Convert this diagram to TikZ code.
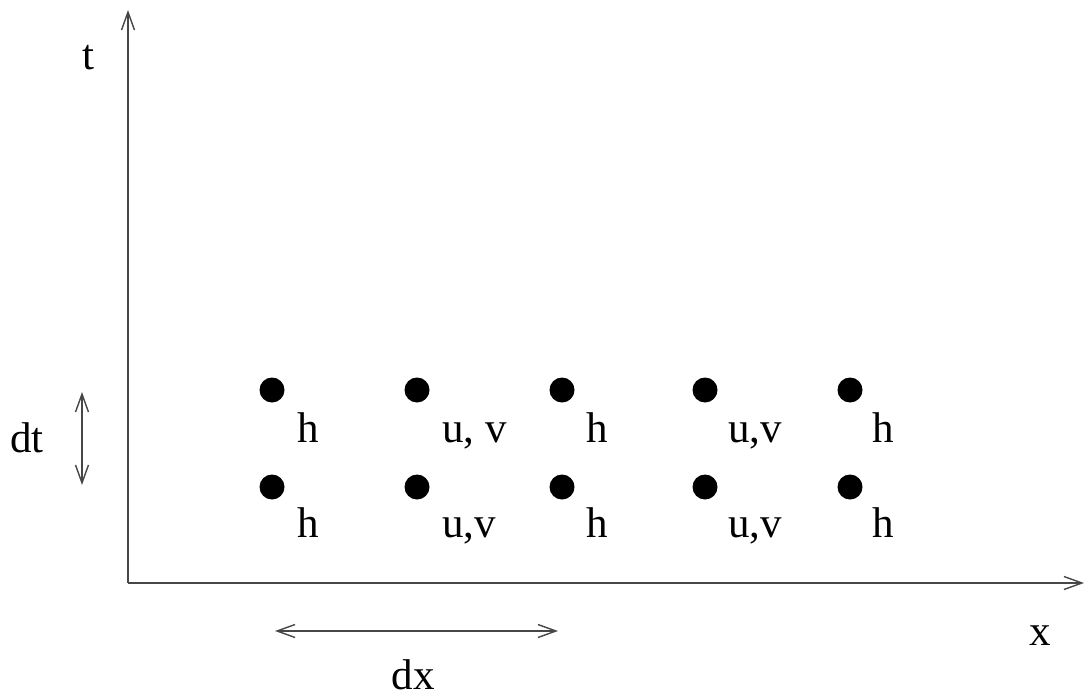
\documentclass[tikz,border=0pt]{standalone}
\usepackage{fontspec}
\setmainfont{Liberation Serif}
\usetikzlibrary{arrows.meta}
\begin{document}
\begin{tikzpicture}[x=1pt,y=-1pt,
  axis/.style={draw=black!72,line width=1.4pt,-{Straight Barb[length=18pt,width=13pt,line width=1.4pt]}},
  dbl/.style={draw=black!72,line width=1.4pt,{Straight Barb[length=18pt,width=13pt,line width=1.4pt]}-{Straight Barb[length=18pt,width=13pt,line width=1.4pt]}},
  pt/.style={circle,fill=black,inner sep=0pt,minimum size=25pt},
  lbl/.style={inner sep=0pt,anchor=base west,font=\fontsize{43}{50}\selectfont},
  txt/.style={inner sep=0pt,anchor=base,font=\fontsize{43}{50}\selectfont}]
\useasboundingbox (0,0) rectangle (1086,698);
\coordinate (O) at (128,583);
\coordinate (T) at (128,10);
\coordinate (X) at (1084,583);
\draw[axis] (O) -- (T);
\draw[axis] (O) -- (X);
\node[txt] (tl) at (88,70) {t};
\node[txt] (xl) at (1040,645) {x};
% dots
\foreach \c/\xx in {1/272,2/417,3/562,4/705,5/850}{
  \node[pt] (a\c) at (\xx,390) {};
  \node[pt] (b\c) at (\xx,487) {};
}
\node[lbl] (la1) at (297,442) {h};
\node[lbl] (la2) at (442,442) {u, v};
\node[lbl] (la3) at (586,442) {h};
\node[lbl] (la4) at (728,442) {u,v};
\node[lbl] (la5) at (872,442) {h};
\node[lbl] (lb1) at (297,537) {h};
\node[lbl] (lb2) at (442,537) {u,v};
\node[lbl] (lb3) at (586,537) {h};
\node[lbl] (lb4) at (728,537) {u,v};
\node[lbl] (lb5) at (872,537) {h};
% dt
\coordinate (dt1) at (82,392);
\coordinate (dt2) at (82,485);
\draw[dbl] (dt1) -- (dt2);
\node[txt] (dtl) at (27,452) {dt};
% dx
\coordinate (dx1) at (275,631);
\coordinate (dx2) at (558,631);
\draw[dbl] (dx1) -- (dx2);
\node[txt] (dxl) at (413,689) {dx};
\end{tikzpicture}
\end{document}
